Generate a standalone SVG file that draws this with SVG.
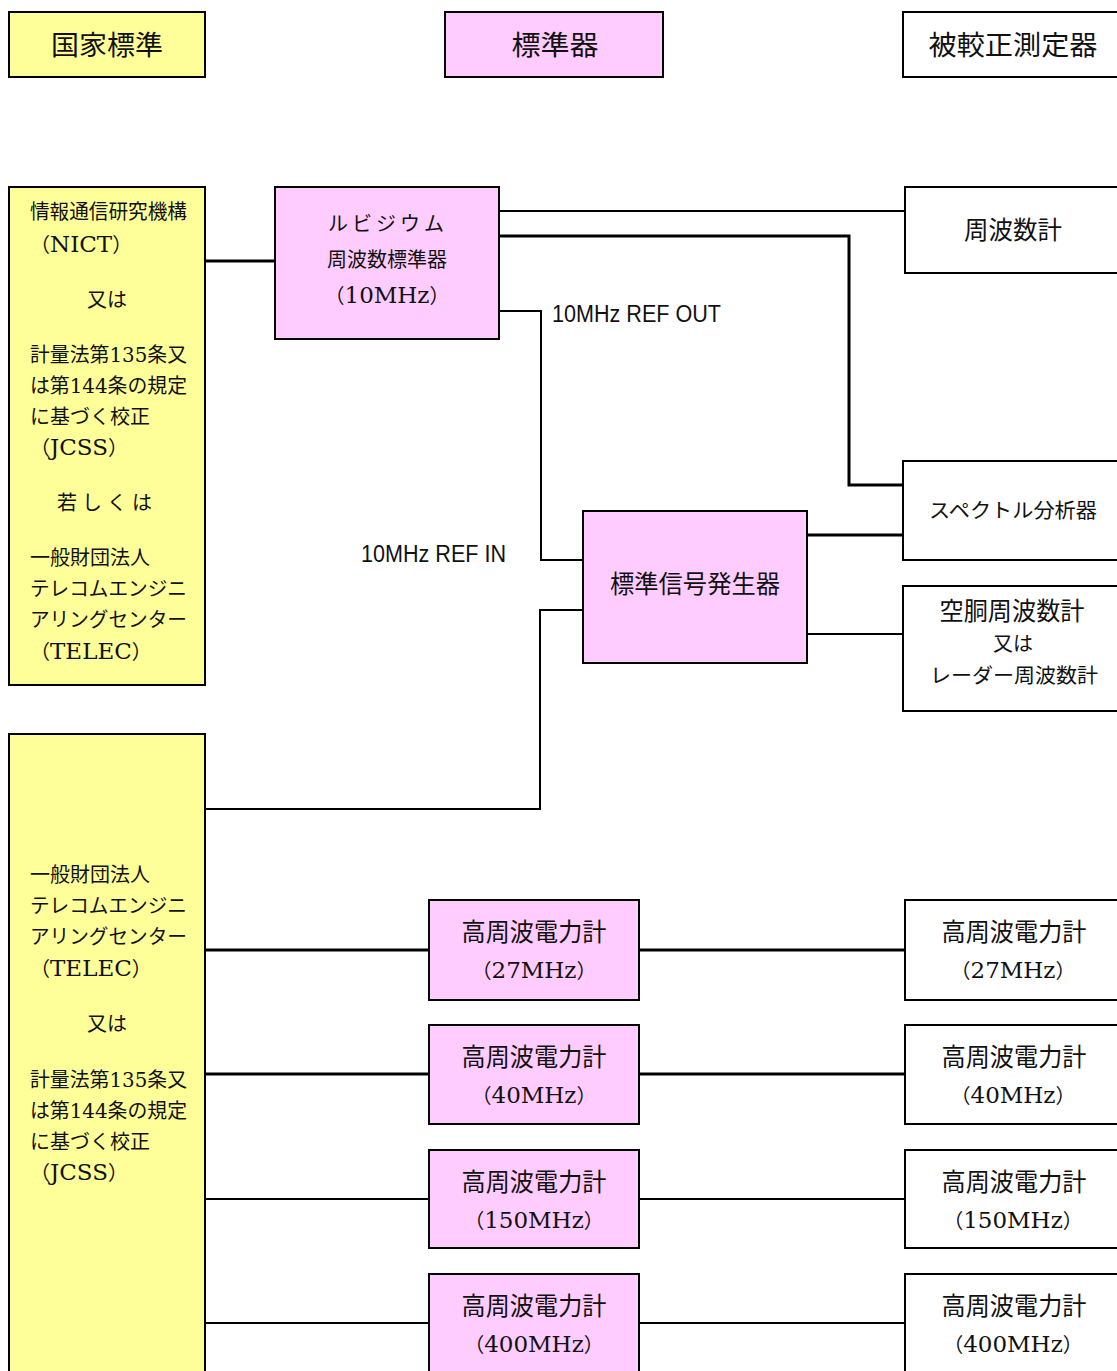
<svg xmlns="http://www.w3.org/2000/svg" width="1117" height="1371" viewBox="0 0 1117 1371">
<style>
.y{fill:#FFFF99;stroke:#000;stroke-width:2}
.p{fill:#FFCCFF;stroke:#000;stroke-width:2}
.w{fill:#FFFFFF;stroke:#000;stroke-width:2}
text{font-family:"Noto Sans CJK JP",sans-serif;font-size:20px;fill:#111}
.l{font-family:"DejaVu Serif",serif;font-size:23px}
.d{font-family:"DejaVu Serif",serif;font-size:20px}
.h{font-size:27px}
.b{font-size:25px}
.m{text-anchor:middle}
.lbl{font-family:"Liberation Sans",Arial,sans-serif;font-size:23px}
.ck{fill:none;stroke:#000;stroke-width:3}
.cn{fill:none;stroke:#000;stroke-width:2}
</style>
<rect width="1117" height="1371" fill="#fff"/>
<g id="connectors">
<path class="ck" d="M205 261H275"/>
<path class="cn" d="M499 211H905"/>
<path class="ck" d="M499 236H849V485H903"/>
<path class="cn" d="M499 311H541V560H583"/>
<path class="ck" d="M807 535H903"/>
<path class="cn" d="M807 634H903"/>
<path class="cn" d="M583 610H540V809H205"/>
<path class="ck" d="M205 950H429M639 950H905"/>
<path class="ck" d="M205 1074H429M639 1074H905"/>
<path class="cn" d="M205 1199H429M639 1199H905"/>
<path class="cn" d="M205 1323H429M639 1323H905"/>
</g>
<g id="hdr-national">
<rect class="y" x="9" y="12" width="196" height="65"/>
<text class="h m" x="107" y="55" textLength="112" lengthAdjust="spacingAndGlyphs">国家標準</text>
</g>
<g id="hdr-standard">
<rect class="p" x="445" y="12" width="218" height="65"/>
<text class="h m" x="555" y="55" textLength="87" lengthAdjust="spacingAndGlyphs">標準器</text>
</g>
<g id="hdr-dut">
<rect class="w" x="903" y="12" width="216" height="65"/>
<text class="h m" x="1013" y="55" textLength="169" lengthAdjust="spacingAndGlyphs">被較正測定器</text>
</g>
<g id="national1">
<rect class="y" x="9" y="187" width="196" height="498"/>
<text x="30" y="219" textLength="157" lengthAdjust="spacingAndGlyphs">情報通信研究機構</text>
<text x="30" y="252">（<tspan class="l">NICT</tspan>）</text>
<text class="m" x="107" y="307" font-size="22">又は</text>
<text x="30" y="362" textLength="157" lengthAdjust="spacingAndGlyphs">計量法第<tspan class="d">135</tspan>条又</text>
<text x="30" y="393" textLength="157" lengthAdjust="spacingAndGlyphs">は第<tspan class="d">144</tspan>条の規定</text>
<text x="30" y="424">に基づく校正</text>
<text x="30" y="455">（<tspan class="l">JCSS</tspan>）</text>
<text class="m" x="107" y="510" letter-spacing="5">若しくは</text>
<text x="30" y="565">一般財団法人</text>
<text x="30" y="596" textLength="157" lengthAdjust="spacingAndGlyphs">テレコムエンジニ</text>
<text x="30" y="627" textLength="157" lengthAdjust="spacingAndGlyphs">アリングセンター</text>
<text x="30" y="659">（<tspan class="l">TELEC</tspan>）</text>
</g>
<g id="rubidium">
<rect class="p" x="275" y="187" width="224" height="152"/>
<text class="m" x="388" y="231" letter-spacing="4">ルビジウム</text>
<text class="m" x="387" y="267">周波数標準器</text>
<text class="m" x="387" y="303">（<tspan class="l">10MHz</tspan>）</text>
</g>
<text class="lbl" x="552" y="322" textLength="169" lengthAdjust="spacingAndGlyphs">10MHz REF OUT</text>
<text class="lbl" x="361" y="562" textLength="145" lengthAdjust="spacingAndGlyphs">10MHz REF IN</text>
<g id="freqcounter">
<rect class="w" x="905" y="187" width="214" height="86"/>
<text class="b m" x="1013" y="239" textLength="98" lengthAdjust="spacingAndGlyphs">周波数計</text>
</g>
<g id="spectrum">
<rect class="w" x="903" y="461" width="216" height="99"/>
<text class="m" x="1013" y="518" font-size="22" textLength="168" lengthAdjust="spacingAndGlyphs">スペクトル分析器</text>
</g>
<g id="cavity">
<rect class="w" x="903" y="586" width="216" height="125"/>
<text class="b m" x="1012" y="620" textLength="145" lengthAdjust="spacingAndGlyphs">空胴周波数計</text>
<text class="m" x="1013" y="651" font-size="23">又は</text>
<text class="m" x="1014" y="683" font-size="22" textLength="168" lengthAdjust="spacingAndGlyphs">レーダー周波数計</text>
</g>
<g id="siggen">
<rect class="p" x="583" y="511" width="224" height="152"/>
<text class="b m" x="695" y="593" textLength="170" lengthAdjust="spacingAndGlyphs">標準信号発生器</text>
</g>
<g id="national2">
<rect class="y" x="9" y="734" width="196" height="640"/>
<text x="30" y="882">一般財団法人</text>
<text x="30" y="913" textLength="157" lengthAdjust="spacingAndGlyphs">テレコムエンジニ</text>
<text x="30" y="944" textLength="157" lengthAdjust="spacingAndGlyphs">アリングセンター</text>
<text x="30" y="976">（<tspan class="l">TELEC</tspan>）</text>
<text class="m" x="107" y="1031" font-size="22">又は</text>
<text x="30" y="1087" textLength="157" lengthAdjust="spacingAndGlyphs">計量法第<tspan class="d">135</tspan>条又</text>
<text x="30" y="1118" textLength="157" lengthAdjust="spacingAndGlyphs">は第<tspan class="d">144</tspan>条の規定</text>
<text x="30" y="1149">に基づく校正</text>
<text x="30" y="1180">（<tspan class="l">JCSS</tspan>）</text>
</g>
<g id="pm27">
<rect class="p" x="429" y="900" width="210" height="100"/>
<text class="b m" x="534" y="941" textLength="145" lengthAdjust="spacingAndGlyphs">高周波電力計</text>
<text class="m" x="534" y="978" font-size="22">（<tspan class="l">27MHz</tspan>）</text>
</g>
<g id="pm40">
<rect class="p" x="429" y="1025" width="210" height="99"/>
<text class="b m" x="534" y="1066" textLength="145" lengthAdjust="spacingAndGlyphs">高周波電力計</text>
<text class="m" x="534" y="1103" font-size="22">（<tspan class="l">40MHz</tspan>）</text>
</g>
<g id="pm150">
<rect class="p" x="429" y="1150" width="210" height="98"/>
<text class="b m" x="534" y="1191" textLength="145" lengthAdjust="spacingAndGlyphs">高周波電力計</text>
<text class="m" x="534" y="1228" font-size="22">（<tspan class="l">150MHz</tspan>）</text>
</g>
<g id="pm400">
<rect class="p" x="429" y="1274" width="210" height="100"/>
<text class="b m" x="534" y="1315" textLength="145" lengthAdjust="spacingAndGlyphs">高周波電力計</text>
<text class="m" x="534" y="1352" font-size="22">（<tspan class="l">400MHz</tspan>）</text>
</g>
<g id="dut27">
<rect class="w" x="905" y="900" width="214" height="100"/>
<text class="b m" x="1014" y="941" textLength="145" lengthAdjust="spacingAndGlyphs">高周波電力計</text>
<text class="m" x="1013" y="978" font-size="22">（<tspan class="l">27MHz</tspan>）</text>
</g>
<g id="dut40">
<rect class="w" x="905" y="1025" width="214" height="99"/>
<text class="b m" x="1014" y="1066" textLength="145" lengthAdjust="spacingAndGlyphs">高周波電力計</text>
<text class="m" x="1013" y="1103" font-size="22">（<tspan class="l">40MHz</tspan>）</text>
</g>
<g id="dut150">
<rect class="w" x="905" y="1150" width="214" height="98"/>
<text class="b m" x="1014" y="1191" textLength="145" lengthAdjust="spacingAndGlyphs">高周波電力計</text>
<text class="m" x="1013" y="1228" font-size="22">（<tspan class="l">150MHz</tspan>）</text>
</g>
<g id="dut400">
<rect class="w" x="905" y="1274" width="214" height="100"/>
<text class="b m" x="1014" y="1315" textLength="145" lengthAdjust="spacingAndGlyphs">高周波電力計</text>
<text class="m" x="1013" y="1352" font-size="22">（<tspan class="l">400MHz</tspan>）</text>
</g>
</svg>
